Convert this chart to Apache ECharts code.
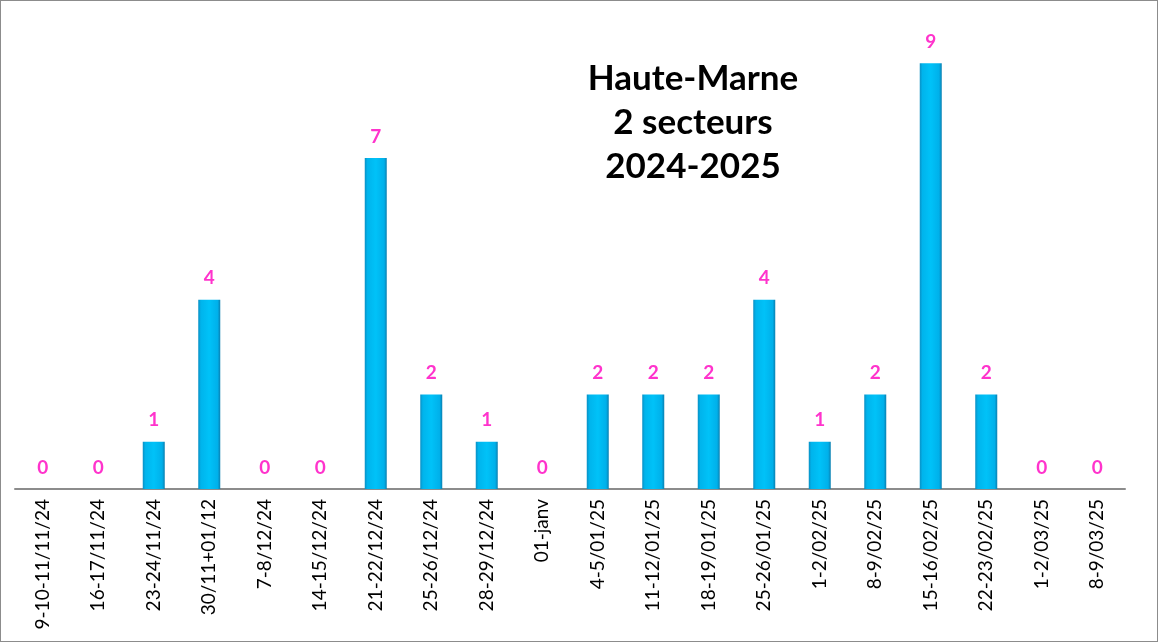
<!DOCTYPE html>
<html><head><meta charset="utf-8">
<script src="https://cdn.jsdelivr.net/npm/echarts@6/dist/echarts.min.js"></script>
<style>
html,body{margin:0;padding:0;background:#fff;}
#c{width:1158px;height:642px;box-sizing:border-box;border:1px solid #8c8c8c;}
</style></head>
<body><div id="c"></div>
<script>
const categories = ["9-10-11/11/24","16-17/11/24","23-24/11/24","30/11+01/12","7-8/12/24","14-15/12/24","21-22/12/24","25-26/12/24","28-29/12/24","01-janv","4-5/01/25","11-12/01/25","18-19/01/25","25-26/01/25","1-2/02/25","8-9/02/25","15-16/02/25","22-23/02/25","1-2/03/25","8-9/03/25"];
const values = [0,0,1,4,0,0,7,2,1,0,2,2,2,4,1,2,9,2,0,0];
const titleLines = ["Haute-Marne","2 secteurs","2024-2025"];

const chart = echarts.init(document.getElementById('c'), null, {renderer:'canvas'});
chart.setOption({
  animation:false,
  title:{
    text:titleLines.join('\n'),
    left:687, top:51, textAlign:'center',
    textStyle:{fontFamily:'Lato',fontWeight:'bold',fontSize:35,color:'#000',lineHeight:44}
  },
  grid:{left:14,right:32,top:15,bottom:152,containLabel:false},
  xAxis:{
    type:'category', data:categories,
    axisLine:{lineStyle:{color:'#8c8c8c',width:2}},
    axisTick:{show:false},
    axisLabel:{rotate:90,interval:0,margin:10,fontFamily:'Lato',fontSize:19,color:'#000'}
  },
  yAxis:{type:'value',min:0,max:10,show:false,splitLine:{show:false}},
  series:[{
    type:'bar', data:values, barWidth:22,
    itemStyle:{
      color:new echarts.graphic.LinearGradient(0,0,1,0,[
        {offset:0,color:'#0a8fc4'},
        {offset:0.12,color:'#00b4ec'},
        {offset:0.5,color:'#00c2f8'},
        {offset:0.88,color:'#00b0ea'},
        {offset:1,color:'#0a7fb0'}
      ]),
      borderWidth:0
    },
    label:{show:true,position:'top',distance:12,fontFamily:'Lato',fontWeight:'bold',fontSize:19,color:'#ff33cc'}
  }]
});
</script></body></html>
